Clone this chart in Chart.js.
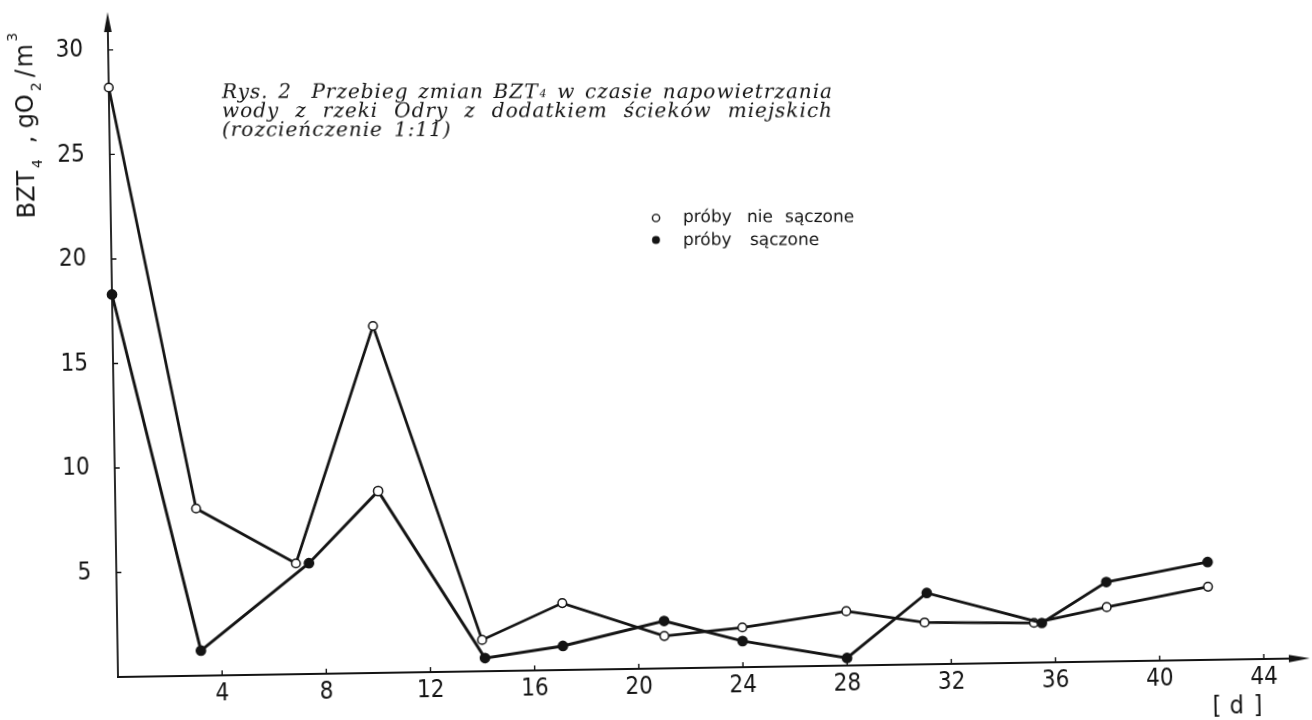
<!DOCTYPE html>
<html lang="pl">
<head>
<meta charset="utf-8">
<title>Rys. 2 – BZT4</title>
<script src="https://cdn.jsdelivr.net/npm/chart.js@4.4.1/dist/chart.umd.min.js"></script>
<style>
  html, body { margin: 0; padding: 0; background: #fff; overflow: hidden; width: 1312px; height: 720px; }
  /* the whole drawing sits slightly tilted, as on the printed page */
  #wrap { position: absolute; left: 0; top: 0; width: 1340px; height: 760px;
          transform: rotate(-0.9deg); transform-origin: 118px 677px; }
  canvas { display: block; }
</style>
</head>
<body>
<div id="wrap"><canvas id="c" width="1340" height="760"></canvas></div>
<script>
// ---- data -------------------------------------------------------------
const xTickValues = [4, 8, 12, 16, 20, 24, 28, 32, 36, 40, 44];
const yTickValues = [5, 10, 15, 20, 25, 30];

// próby nie sączone (open circles)
const daysUnfiltered = [0, 3.1, 6.9, 10, 14, 17.1, 21, 24, 28, 31, 35.2, 38, 41.9];
const bztUnfiltered  = [28.2, 8.0, 5.3, 16.6, 1.5, 3.2, 1.55, 1.9, 2.6, 2.0, 1.9, 2.6, 3.5];

// próby sączone (filled circles)
const daysFiltered = [0, 3.2, 7.4, 10.1, 14.1, 17.1, 21, 24, 28, 31.1, 35.5, 38, 41.9];
const bztFiltered  = [18.3, 1.2, 5.3, 8.7, 0.63, 1.15, 2.27, 1.25, 0.36, 3.41, 1.89, 3.8, 4.68];

const legendLabels = ['próby nie sączone', 'próby sączone'];
const titleLines = [
  ['Rys.', '2', 'Przebieg', 'zmian', 'BZT4', 'w', 'czasie', 'napowietrzania'],
  ['wody', 'z', 'rzeki', 'Odry', 'z', 'dodatkiem', 'ścieków', 'miejskich'],
  ['(rozcieńczenie', '1:11)']
];

// ---- styling helpers ---------------------------------------------------
const INK = '#141414';
const TILT = 0.9 * Math.PI / 180;
const ORIGIN = { x: 118, y: 677 };
const tickFont = { family: '"Liberation Sans Narrow", "DejaVu Sans Condensed", "Liberation Sans", sans-serif', size: 24 };
const sansFamily = '"DejaVu Sans", "Noto Sans", sans-serif';
const serifItalic = 'italic 20px "DejaVu Serif", "Liberation Serif", serif';
const serifIndex = 'italic 11px "DejaVu Serif", "Liberation Serif", serif';

const toPoints = (xs, ys) => xs.map((d, i) => ({ x: d, y: ys[i] }));
// the filled series shows one hollow marker at its second peak
const filledMarkerFill = daysFiltered.map((_, i) => (i === 3 ? '#ffffff' : INK));

// axes with arrowheads and short inner tick marks
const axesPlugin = {
  id: 'arrowAxes',
  beforeDatasetsDraw(chart) {
    const { ctx, scales: { x, y } } = chart;
    const x0 = x.getPixelForValue(0);
    const y0 = y.getPixelForValue(0);
    const yTip = y.getPixelForValue(31) - 17;
    const xTip = x.getPixelForValue(45) + 20;
    ctx.save();
    ctx.strokeStyle = INK;
    ctx.fillStyle = INK;
    ctx.lineWidth = 1.8;
    ctx.lineCap = 'butt';
    ctx.beginPath();
    ctx.moveTo(x0, y0 + 1);
    ctx.lineTo(x0, yTip + 10);
    ctx.moveTo(x0 - 1, y0);
    ctx.lineTo(xTip - 10, y0);
    ctx.stroke();
    // arrowheads
    ctx.beginPath();
    ctx.moveTo(x0, yTip);
    ctx.lineTo(x0 - 3.8, yTip + 20);
    ctx.lineTo(x0 + 3.8, yTip + 20);
    ctx.closePath();
    ctx.fill();
    ctx.beginPath();
    ctx.moveTo(xTip, y0);
    ctx.lineTo(xTip - 21, y0 - 3.8);
    ctx.lineTo(xTip - 21, y0 + 3.8);
    ctx.closePath();
    ctx.fill();
    // tick marks
    ctx.lineWidth = 1.4;
    ctx.beginPath();
    yTickValues.forEach(v => {
      const p = y.getPixelForValue(v);
      ctx.moveTo(x0, p);
      ctx.lineTo(x0 + 5, p);
    });
    xTickValues.forEach(v => {
      const p = x.getPixelForValue(v);
      ctx.moveTo(p, y0);
      ctx.lineTo(p, y0 - 5);
    });
    ctx.stroke();
    ctx.restore();
  }
};

// "BZT4" in the caption carries a small index digit
function measureWord(ctx, w) {
  if (w === 'BZT4') {
    const a = ctx.measureText('BZT').width;
    ctx.font = serifIndex;
    const b = ctx.measureText('4').width;
    ctx.font = serifItalic;
    return a + b + 1;
  }
  return ctx.measureText(w).width;
}
function drawWord(ctx, w, x, y) {
  if (w === 'BZT4') {
    ctx.fillText('BZT', x, y);
    const a = ctx.measureText('BZT').width;
    ctx.font = serifIndex;
    ctx.fillText('4', x + a + 1, y - 1);
    ctx.font = serifItalic;
    return;
  }
  ctx.fillText(w, x, y);
}

// axis titles, caption and key
const textPlugin = {
  id: 'captions',
  afterDraw(chart) {
    const ctx = chart.ctx;
    ctx.save();
    ctx.fillStyle = INK;
    ctx.textBaseline = 'alphabetic';
    ctx.textAlign = 'left';

    // vertical axis title: BZT4 , gO2/m3
    ctx.save();
    ctx.translate(42, 217);
    ctx.rotate(-Math.PI / 2);
    const big = '24px ' + sansFamily;
    const small = '14px ' + sansFamily;
    const parts = [
      ['BZT', 0, 0, big], ['4', 50, 8, small], [',', 75, 0, big],
      ['gO', 90, 0, big], ['2', 127, 8, small],
      ['/', 141, 0, big], ['m', 151, 0, big], ['3', 177, -15, small]
    ];
    parts.forEach(([t, dx, dy, f]) => { ctx.font = f; ctx.fillText(t, dx, dy); });
    ctx.restore();

    // unit of the horizontal axis
    ctx.font = '25px ' + tickFont.family;
    ctx.fillText('[', 1212, 731);
    ctx.fillText('d', 1229, 731);
    ctx.fillText(']', 1253, 731);

    // caption and key are set level on the page
    ctx.translate(ORIGIN.x, ORIGIN.y);
    ctx.rotate(TILT);
    ctx.translate(-ORIGIN.x, -ORIGIN.y);

    const capLeft = 222, capRight = 833;
    const baselines = [98, 117, 136];
    if ('letterSpacing' in ctx) ctx.letterSpacing = '1px';
    titleLines.forEach((words, li) => {
      ctx.font = serifItalic;
      const widths = words.map(w => measureWord(ctx, w));
      const total = widths.reduce((a, b) => a + b, 0);
      const justify = li < 2;
      const weights = words.slice(1).map((_, i) => (li === 0 && i === 1 ? 2 : 1));
      const wsum = weights.reduce((a, b) => a + b, 0);
      const unit = justify ? Math.max(6, (capRight - capLeft - total) / wsum) : 11;
      let xPos = capLeft;
      words.forEach((w, i) => {
        drawWord(ctx, w, xPos, baselines[li]);
        xPos += widths[i] + (i < weights.length ? weights[i] * unit : 0);
      });
    });
    if ('letterSpacing' in ctx) ctx.letterSpacing = '0px';

    // key
    ctx.lineWidth = 1.4;
    ctx.strokeStyle = INK;
    ctx.beginPath();
    ctx.arc(656, 218, 3.6, 0, Math.PI * 2);
    ctx.fillStyle = '#fff';
    ctx.fill();
    ctx.stroke();
    ctx.fillStyle = INK;
    ctx.beginPath();
    ctx.arc(656, 240, 4, 0, Math.PI * 2);
    ctx.fill();
    ctx.font = '17px ' + sansFamily;
    const k1 = legendLabels[0].split(' ');
    const k2 = legendLabels[1].split(' ');
    [[k1[0], 683], [k1[1], 747], [k1[2], 785]].forEach(([t, x]) => ctx.fillText(t, x, 222));
    [[k2[0], 683], [k2[1], 750]].forEach(([t, x]) => ctx.fillText(t, x, 245));

    ctx.restore();
  }
};

new Chart(document.getElementById('c'), {
  type: 'line',
  data: {
    datasets: [
      {
        label: legendLabels[1],
        data: toPoints(daysFiltered, bztFiltered),
        borderColor: INK,
        borderWidth: 2.9,
        pointRadius: 4.6,
        pointBackgroundColor: filledMarkerFill,
        pointBorderColor: INK,
        pointBorderWidth: 1.5,
        tension: 0,
        clip: false
      },
      {
        label: legendLabels[0],
        data: toPoints(daysUnfiltered, bztUnfiltered),
        borderColor: INK,
        borderWidth: 2.7,
        pointRadius: 4.3,
        pointBackgroundColor: '#ffffff',
        pointBorderColor: INK,
        pointBorderWidth: 1.5,
        tension: 0,
        clip: false
      }
    ]
  },
  options: {
    responsive: false,
    animation: false,
    devicePixelRatio: 1,
    layout: { padding: { left: 0, top: 29, right: 50, bottom: 40 } },
    plugins: { legend: { display: false }, tooltip: { enabled: false } },
    scales: {
      x: {
        type: 'linear', min: 0, max: 45,
        grid: { display: false, drawTicks: false },
        border: { display: false },
        afterBuildTicks: s => { s.ticks = xTickValues.map(v => ({ value: v })); },
        afterFit: s => { s.height = 43; s.paddingLeft = 0; s.paddingRight = 0; },
        ticks: { padding: 4, color: INK, font: tickFont, maxRotation: 0, autoSkip: false }
      },
      y: {
        type: 'linear', min: 0, max: 31,
        grid: { display: false, drawTicks: false },
        border: { display: false },
        afterBuildTicks: s => { s.ticks = yTickValues.map(v => ({ value: v })); },
        afterFit: s => { s.width = 118; s.paddingTop = 0; s.paddingBottom = 0; },
        ticks: { padding: 25, color: INK, font: tickFont, autoSkip: false }
      }
    }
  },
  plugins: [axesPlugin, textPlugin]
});
</script>
</body>
</html>
